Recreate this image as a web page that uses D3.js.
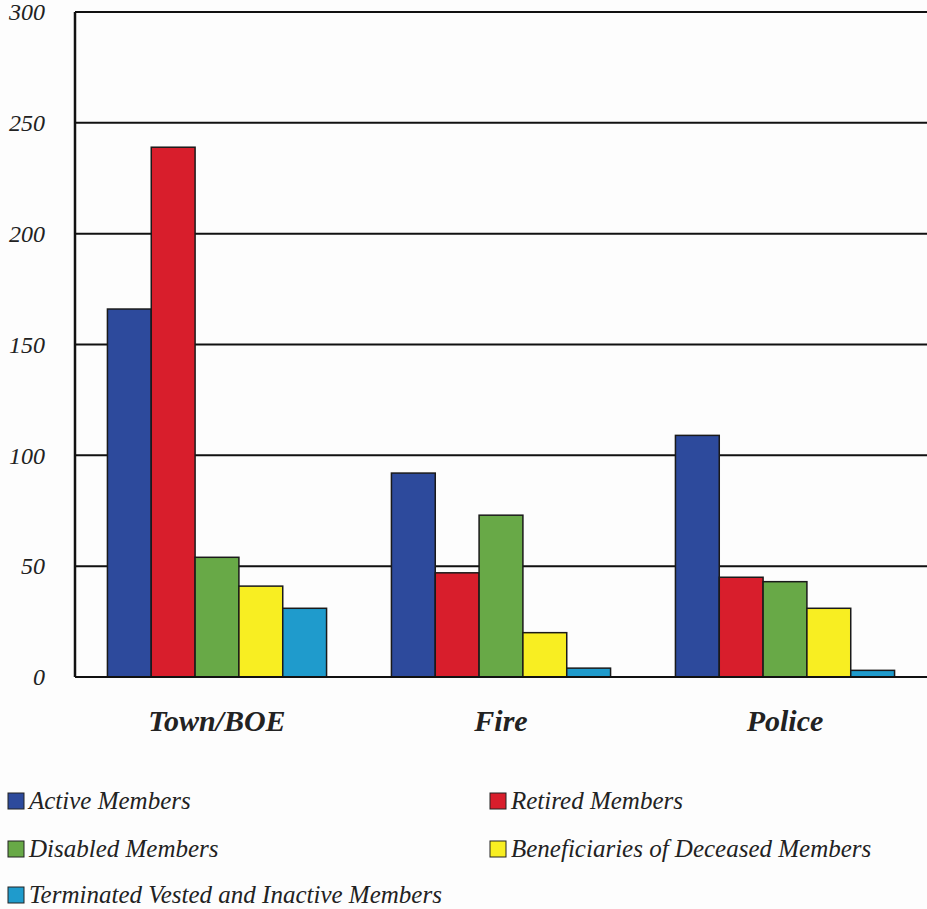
<!DOCTYPE html>
<html lang="en">
<head>
    <meta charset="UTF-8">
    <title>Members by Plan</title>
    <style>
        body { margin: 0; background: #fdfdfd; }
        svg { display: block; }
    </style>
</head>
<body>
    <script src="https://d3js.org/d3.v7.min.js"></script>
    <script>
        const width = 927;
        const height = 909;

        const categories = ["Town/BOE", "Fire", "Police"];
        const seriesNames = ["Active Members", "Retired Members", "Disabled Members",
            "Beneficiaries of Deceased Members", "Terminated Vested and Inactive Members"];
        const active = [166, 92, 109];
        const retired = [239, 47, 45];
        const disabled = [54, 73, 43];
        const beneficiaries = [41, 20, 31];
        const terminated = [31, 4, 3];
        const yTicks = [0, 50, 100, 150, 200, 250, 300];
        const colors = ["#2d4a9c", "#d81e2c", "#68a947", "#f8ee22", "#1f9bcc"];

        const seriesValues = [active, retired, disabled, beneficiaries, terminated];
        const serif = "'Liberation Serif', 'Times New Roman', serif";

        const margin = { left: 75, right: 0, top: 12 };
        const plotBottom = 677;

        const svg = d3.select("body")
            .append("svg")
            .attr("width", width)
            .attr("height", height);

        const x0 = d3.scaleBand()
            .domain(categories)
            .range([margin.left, width - margin.right])
            .padding(0);

        const x1 = d3.scaleBand()
            .domain(seriesNames)
            .range([0, x0.bandwidth()])
            .paddingInner(0)
            .paddingOuter(0.74);

        const y = d3.scaleLinear()
            .domain([0, 300])
            .range([plotBottom, margin.top]);

        // gridlines
        svg.append("g")
            .selectAll("line")
            .data(yTicks.filter(d => d > 0))
            .join("line")
            .attr("x1", margin.left)
            .attr("x2", width)
            .attr("y1", d => y(d))
            .attr("y2", d => y(d))
            .attr("stroke", "#111")
            .attr("stroke-width", 2);

        // y axis labels
        const yAxis = svg.append("g")
            .attr("transform", `translate(${margin.left},0)`)
            .call(d3.axisLeft(y).tickValues(yTicks).tickSize(0).tickPadding(30));
        yAxis.select(".domain").remove();
        yAxis.selectAll(".tick text")
            .style("font-family", serif)
            .style("font-style", "italic")
            .style("font-size", "24px")
            .style("fill", "#222");

        // bars
        const groups = svg.append("g")
            .selectAll("g")
            .data(categories)
            .join("g")
            .attr("transform", d => `translate(${x0(d)},0)`);

        groups.selectAll("rect")
            .data((c, i) => seriesNames.map((s, j) => ({ s, j, v: seriesValues[j][i] })))
            .join("rect")
            .attr("x", d => x1(d.s))
            .attr("y", d => y(d.v))
            .attr("width", x1.bandwidth())
            .attr("height", d => y(0) - y(d.v))
            .attr("fill", d => colors[d.j])
            .attr("stroke", "#1a1a1a")
            .attr("stroke-width", 1.5);

        // axis lines
        svg.append("line")
            .attr("x1", margin.left).attr("x2", margin.left)
            .attr("y1", y(300)).attr("y2", y(0))
            .attr("stroke", "#111").attr("stroke-width", 2.5);
        svg.append("line")
            .attr("x1", margin.left).attr("x2", width)
            .attr("y1", y(0)).attr("y2", y(0))
            .attr("stroke", "#111").attr("stroke-width", 2);

        // category labels
        svg.append("g")
            .selectAll("text")
            .data(categories)
            .join("text")
            .attr("x", d => x0(d) + x0.bandwidth() / 2)
            .attr("y", 731)
            .attr("text-anchor", "middle")
            .style("font-family", serif)
            .style("font-style", "italic")
            .style("font-weight", "bold")
            .style("font-size", "30px")
            .style("fill", "#222")
            .text(d => d);

        // legend
        const legendPos = [[8, 801], [490, 801], [8, 849], [490, 849], [8, 895]];
        const legend = svg.append("g")
            .selectAll("g")
            .data(seriesNames)
            .join("g")
            .attr("transform", (d, i) => `translate(${legendPos[i][0]},${legendPos[i][1]})`);

        legend.append("rect")
            .attr("x", 0).attr("y", -8)
            .attr("width", 16).attr("height", 16)
            .attr("fill", (d, i) => colors[i])
            .attr("stroke", "#222")
            .attr("stroke-width", 1);

        legend.append("text")
            .attr("x", 21)
            .attr("y", 8)
            .style("font-family", serif)
            .style("font-style", "italic")
            .style("font-size", "25px")
            .style("fill", "#222")
            .text(d => d);
    </script>
</body>
</html>
